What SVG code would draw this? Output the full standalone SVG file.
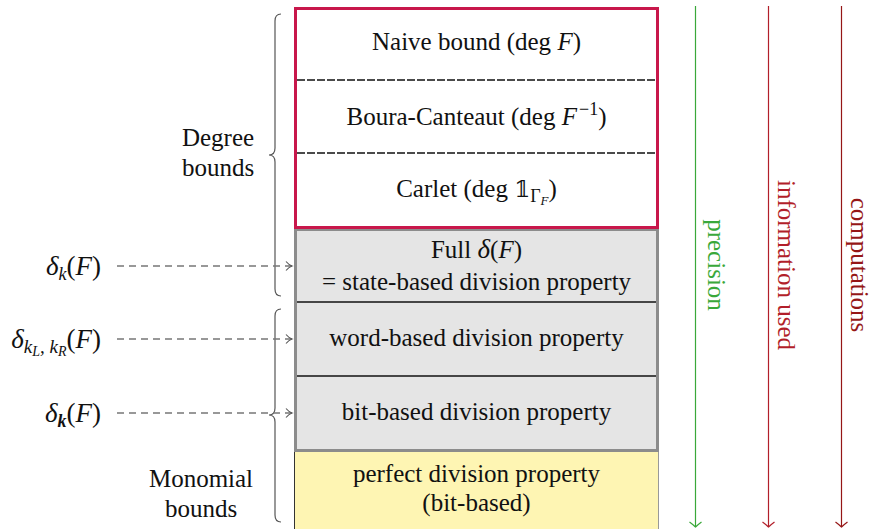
<svg xmlns="http://www.w3.org/2000/svg" width="874" height="529" viewBox="0 0 874 529">
  <style>
    .t { font-family: "Liberation Serif", "Times New Roman", serif; font-size: 25px; fill: #111; }
    .c { text-anchor: middle; }
    .m { font-family: "Liberation Serif", "Times New Roman", serif; font-size: 27px; fill: #111; text-anchor: end; }
    .i { font-style: italic; }
    .brace { fill: none; stroke: #555; stroke-width: 1.2; }
    .dash { fill: none; stroke: #777; stroke-width: 1.3; stroke-dasharray: 7 5; }
    .div { stroke: #111; stroke-width: 1.3; stroke-dasharray: 8 2; }
    .sep { stroke: #111; stroke-width: 1.5; }
  </style>
  <defs>
    <marker id="tip" markerWidth="10" markerHeight="12" refX="8" refY="6" orient="auto" markerUnits="userSpaceOnUse">
      <path d="M2,1.5 Q5,5 8,6 Q5,7 2,10.5" fill="none" stroke="#555" stroke-width="1.1"/>
    </marker>
    <marker id="tipG" markerWidth="14" markerHeight="12" refX="7" refY="10" orient="0" markerUnits="userSpaceOnUse">
      <path d="M1,5 Q5,8 7,10 Q9,8 13,5" fill="none" stroke="#3aa83a" stroke-width="1.2"/>
    </marker>
    <marker id="tipR" markerWidth="14" markerHeight="12" refX="7" refY="10" orient="0" markerUnits="userSpaceOnUse">
      <path d="M1,5 Q5,8 7,10 Q9,8 13,5" fill="none" stroke="#b21f2a" stroke-width="1.2"/>
    </marker>
    <marker id="tipD" markerWidth="14" markerHeight="12" refX="7" refY="10" orient="0" markerUnits="userSpaceOnUse">
      <path d="M1,5 Q5,8 7,10 Q9,8 13,5" fill="none" stroke="#951616" stroke-width="1.2"/>
    </marker>
  </defs>

  <!-- perfect division property -->
  <g id="perfect">
    <rect x="294" y="451" width="365" height="80" fill="#fef5b3"/>
    <line x1="294.5" y1="451" x2="294.5" y2="529" stroke="#333" stroke-width="1"/>
    <line x1="658.5" y1="451" x2="658.5" y2="529" stroke="#999" stroke-width="1"/>
    <text class="t c" x="476.5" y="482">perfect division property</text>
    <text class="t c" x="476.5" y="511">(bit-based)</text>
  </g>

  <!-- division property family -->
  <g id="division">
    <rect x="295.5" y="229.5" width="362" height="221" fill="#e5e5e5" stroke="#8c8c8c" stroke-width="3"/>
    <line class="sep" x1="297" y1="302" x2="656" y2="302"/>
    <line class="sep" x1="297" y1="376" x2="656" y2="376"/>
    <text class="t c" x="476.5" y="258">Full <tspan class="i" font-size="27">δ</tspan>(<tspan class="i">F</tspan>)</text>
    <text class="t c" x="476.5" y="290">= state-based division property</text>
    <text class="t c" x="476.5" y="346">word-based division property</text>
    <text class="t c" x="476.5" y="420">bit-based division property</text>
  </g>

  <!-- degree bounds -->
  <g id="degree">
    <rect x="295.5" y="8.5" width="362" height="219" fill="#fff" stroke="#c8174b" stroke-width="3"/>
    <line class="div" x1="297" y1="80" x2="656" y2="80"/>
    <line class="div" x1="297" y1="153" x2="656" y2="153"/>
    <text class="t c" x="476.5" y="50">Naive bound (deg <tspan class="i">F</tspan>)</text>
    <text class="t c" x="476.5" y="125">Boura-Canteaut (deg <tspan class="i">F</tspan><tspan font-size="18" dx="2" dy="-10">−1</tspan><tspan dy="10">)</tspan></text>
    <text class="t c" x="476.5" y="197">Carlet (deg <tspan font-family="DejaVu Serif, DejaVu Sans, serif" font-size="23">𝟙</tspan><tspan font-size="18" dy="5">Γ</tspan><tspan class="i" font-size="13" dy="3">F</tspan><tspan dy="-8">)</tspan></text>
  </g>

  <!-- group labels with braces -->
  <g id="degree-label">
    <path class="brace" d="M281,14 Q275,14 275,21 L275,148 Q275,155 269,155 Q275,155 275,162 L275,289 Q275,296 281,296"/>
    <text class="t c" x="218" y="146">Degree</text>
    <text class="t c" x="218" y="176">bounds</text>
  </g>
  <g id="monomial-label">
    <path class="brace" d="M281,309 Q275,309 275,316 L275,408 Q275,415 269,415 Q275,415 275,422 L275,515 Q275,522 281,522"/>
    <text class="t c" x="201" y="487">Monomial</text>
    <text class="t c" x="201" y="517">bounds</text>
  </g>

  <!-- notation labels -->
  <g id="delta-k">
    <text class="m" x="101" y="275"><tspan class="i">δ</tspan><tspan class="i" font-size="18" dy="5">k</tspan><tspan dy="-5">(</tspan><tspan class="i">F</tspan>)</text>
  </g>
  <g id="delta-kLkR">
    <text class="m" x="101" y="348"><tspan class="i">δ</tspan><tspan class="i" font-size="19" dy="5">k</tspan><tspan class="i" font-size="14" dy="3">L</tspan><tspan class="i" font-size="19" dy="-3">, k</tspan><tspan class="i" font-size="14" dy="3">R</tspan><tspan dy="-8">(</tspan><tspan class="i">F</tspan>)</text>
  </g>
  <g id="delta-kbold">
    <text class="m" x="101" y="422"><tspan class="i">δ</tspan><tspan class="i" font-weight="bold" font-size="18" dy="5">k</tspan><tspan dy="-5">(</tspan><tspan class="i">F</tspan>)</text>
  </g>

  <!-- connectors -->
  <g id="connectors">
    <line class="dash" x1="117" y1="266" x2="292" y2="266" marker-end="url(#tip)"/>
    <line class="dash" x1="117" y1="339" x2="292" y2="339" marker-end="url(#tip)"/>
    <line class="dash" x1="117" y1="413" x2="292" y2="413" marker-end="url(#tip)"/>
    <line x1="695.5" y1="6" x2="695.5" y2="527" stroke="#3aa83a" stroke-width="1.2" marker-end="url(#tipG)"/>
    <line x1="768.5" y1="6" x2="768.5" y2="527" stroke="#b21f2a" stroke-width="1.2" marker-end="url(#tipR)"/>
    <line x1="841.5" y1="6" x2="841.5" y2="527" stroke="#951616" stroke-width="1.2" marker-end="url(#tipD)"/>
  </g>

  <!-- axis labels -->
  <g id="axis-labels">
    <text class="t c" transform="translate(708,265) rotate(90)" style="fill:#3aa83a">precision</text>
    <text class="t c" transform="translate(778,265) rotate(90)" style="fill:#b21f2a">information used</text>
    <text class="t c" transform="translate(851,265) rotate(90)" style="fill:#951616">computations</text>
  </g>
</svg>
